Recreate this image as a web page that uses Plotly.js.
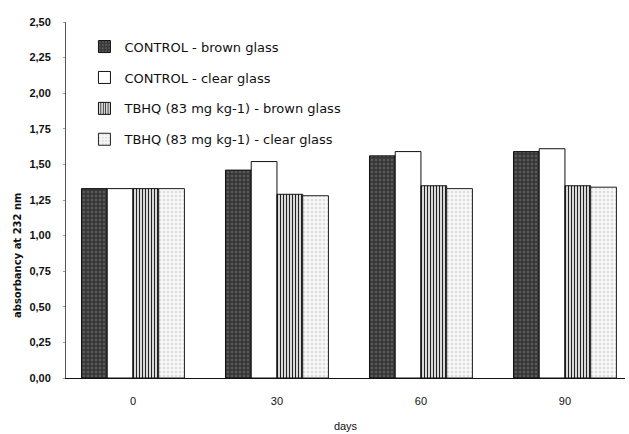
<!DOCTYPE html>
<html>
<head>
<meta charset="utf-8">
<script src="https://cdn.plot.ly/plotly-3.0.1.min.js"></script>
<style>html,body{margin:0;padding:0;background:#fff;}#chart{width:629px;height:434px;}</style>
</head>
<body>
<div id="chart"></div>
<script>
const days = ["0", "30", "60", "90"];
const controlBrown = [1.33, 1.46, 1.56, 1.59];
const controlClear = [1.33, 1.52, 1.59, 1.61];
const tbhqBrown = [1.33, 1.29, 1.35, 1.35];
const tbhqClear = [1.33, 1.28, 1.33, 1.34];
const seriesNames = [
  "CONTROL - brown glass",
  "CONTROL - clear glass",
  "TBHQ (83 mg kg-1) - brown glass",
  "TBHQ (83 mg kg-1) - clear glass"
];
const yTicks = [0, 0.25, 0.5, 0.75, 1, 1.25, 1.5, 1.75, 2, 2.25, 2.5];

const xIdx = days.map((d, i) => i);
const line = {color: "#111", width: 1};
const traces = [
  {y: controlBrown, name: seriesNames[0],
   marker: {color: "#3a3a3a", line: line, pattern: {shape: ".", fgcolor: "#5a5a5a", bgcolor: "#383838", size: 4, solidity: 0.3}}},
  {y: controlClear, name: seriesNames[1],
   marker: {color: "#ffffff", line: line}},
  {y: tbhqBrown, name: seriesNames[2],
   marker: {color: "#ffffff", line: line, pattern: {shape: "|", fgcolor: "#222", bgcolor: "#ffffff", size: 3, solidity: 0.45}}},
  {y: tbhqClear, name: seriesNames[3],
   marker: {color: "#f0f0f0", line: {color: "#222", width: 1}, pattern: {shape: ".", fgcolor: "#d4d4d4", bgcolor: "#f6f6f6", size: 4, solidity: 0.2}}}
].map((t, i) => Object.assign({type: "bar", x: xIdx, legendgroup: "g" + i}, t));

const layout = {
  width: 629, height: 434,
  margin: {l: 66, r: 4, t: 22, b: 56},
  paper_bgcolor: "#fff", plot_bgcolor: "#fff",
  separators: ", ",
  barmode: "group", bargap: 0.285, bargroupgap: 0,
  font: {family: "Liberation Sans, Arial, sans-serif", color: "#111"},
  showlegend: true,
  legend: {x: 0.033, y: 0.973, xanchor: "left", yanchor: "top", bgcolor: "rgba(0,0,0,0)",
           font: {size: 13, color: "#111", family: "DejaVu Sans, sans-serif"}, tracegroupgap: 11, itemwidth: 30,
           traceorder: "grouped"},
  xaxis: {range: [-0.465, 3.417], tickvals: xIdx, ticktext: days, showgrid: false, zeroline: false,
          showline: true, linecolor: "#111", linewidth: 1, ticks: "", ticklen: 0, ticklabelstandoff: 13,
          tickfont: {size: 11, color: "#111"},
          title: {text: "days", font: {size: 11, color: "#111"}, standoff: 16}},
  yaxis: {range: [0, 2.5], tickvals: yTicks, tickformat: ".2f", showgrid: false, zeroline: false,
          showline: true, linecolor: "#555", linewidth: 1, ticks: "outside", ticklen: 2, tickcolor: "#999",
          ticklabelstandoff: 10,
          tickfont: {size: 11, color: "#111", weight: "bold"}},
  annotations: [{text: "<b>absorbancy at 232 nm</b>", textangle: -90, xref: "paper", yref: "paper",
                 x: -0.088, y: 0.345, xanchor: "center", yanchor: "middle", showarrow: false,
                 font: {size: 10, color: "#111", family: "DejaVu Sans, sans-serif"}}]
};
Plotly.newPlot("chart", traces, layout, {staticPlot: true});
</script>
</body>
</html>
